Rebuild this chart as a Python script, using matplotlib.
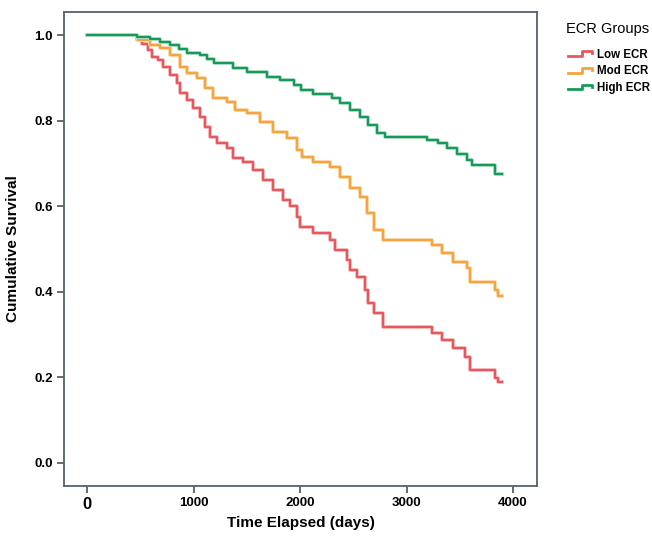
import matplotlib
matplotlib.use('Agg')
import numpy as np
import matplotlib.pyplot as plt
import matplotlib.patheffects as pe
from matplotlib.lines import Line2D
from matplotlib.legend_handler import HandlerBase

plt.rcParams['font.family'] = ['Liberation Sans', 'DejaVu Sans']

# Kaplan-Meier steps (days, cumulative survival)
red_t = [0, 466, 515, 575, 610, 665, 715, 780, 845, 875, 940, 995, 1060, 1110, 1155, 1220,
         1315, 1370, 1465, 1560, 1655, 1750, 1840, 1905, 1970, 2000, 2120, 2280, 2330, 2440,
         2470, 2535, 2610, 2640, 2690, 2780, 3240, 3335, 3440, 3550, 3595, 3830, 3860, 3895]
red_s = [1.0, 0.988, 0.979, 0.965, 0.949, 0.942, 0.925, 0.906, 0.888, 0.864, 0.848, 0.829,
         0.808, 0.785, 0.762, 0.748, 0.736, 0.713, 0.703, 0.685, 0.661, 0.638, 0.615, 0.600,
         0.575, 0.551, 0.537, 0.521, 0.498, 0.474, 0.451, 0.435, 0.404, 0.374, 0.350, 0.318,
         0.304, 0.287, 0.269, 0.248, 0.217, 0.199, 0.189, 0.189]

orange_t = [0, 480, 590, 685, 780, 875, 940, 1030, 1110, 1185, 1310, 1390, 1500, 1625, 1750,
            1875, 1970, 2020, 2120, 2280, 2375, 2470, 2565, 2630, 2690, 2780, 3240, 3335, 3440,
            3565, 3595, 3830, 3860, 3895]
orange_s = [1.0, 0.988, 0.977, 0.969, 0.953, 0.926, 0.911, 0.900, 0.876, 0.853, 0.844, 0.825,
            0.818, 0.797, 0.773, 0.759, 0.731, 0.715, 0.703, 0.692, 0.668, 0.643, 0.621, 0.584,
            0.544, 0.521, 0.509, 0.490, 0.470, 0.455, 0.423, 0.404, 0.390, 0.390]

green_t = [0, 466, 590, 685, 780, 860, 935, 1060, 1125, 1190, 1375, 1500, 1690, 1815, 1940,
           2005, 2120, 2300, 2375, 2470, 2565, 2640, 2720, 2800, 3190, 3295, 3380, 3475, 3565,
           3615, 3830, 3895]
green_s = [1.0, 0.996, 0.990, 0.985, 0.977, 0.967, 0.957, 0.953, 0.943, 0.934, 0.922, 0.914,
           0.903, 0.895, 0.883, 0.871, 0.862, 0.853, 0.841, 0.825, 0.808, 0.790, 0.771, 0.762,
           0.755, 0.748, 0.736, 0.722, 0.708, 0.696, 0.675, 0.675]

groups = ['Low ECR', 'Mod ECR', 'High ECR']
colors = ['#e8575c', '#f6a53e', '#16995a']
halos = ['#f7c4c5', '#fcdcb2', '#b5e2ca']

x_ticks = [0, 1000, 2000, 3000, 4000]
y_ticks = [0.0, 0.2, 0.4, 0.6, 0.8, 1.0]


class StepHandler(HandlerBase):
    def create_artists(self, legend, orig_handle, xdescent, ydescent, width, height, fontsize, trans):
        xs = np.array([0, 0.55, 0.55, 0.95, 0.95]) * width - xdescent
        ys = np.array([0.2, 0.2, 0.8, 0.8, 0.55]) * height - ydescent
        ln = Line2D(xs, ys, color=orig_handle.get_color(), lw=2, transform=trans)
        return [ln]


fig = plt.figure(figsize=(6.52, 5.41), dpi=100)
ax = fig.add_axes([64 / 652, 1 - 486 / 541, (537 - 64) / 652, (486 - 12) / 541])

handles = []
for t, s, c, h in zip([red_t, orange_t, green_t], [red_s, orange_s, green_s], colors, halos):
    ax.step(t, s, where='post', color=c, lw=1.6,
            path_effects=[pe.Stroke(linewidth=2.8, foreground=h), pe.Normal()])
    handles.append(Line2D([], [], color=c))

ax.set_xlim(-216, 4225)
ax.set_ylim(-0.054, 1.054)
ax.set_xticks(x_ticks)
ax.set_yticks(y_ticks)
ax.set_xticklabels([str(v) for v in x_ticks], fontsize=9.5, fontweight='bold')
ax.set_yticklabels(['%.1f' % v for v in y_ticks], fontsize=9.5, fontweight='bold')
ax.get_xticklabels()[0].set_fontsize(12)

frame = '#56616b'
for sp in ax.spines.values():
    sp.set_color(frame)
    sp.set_linewidth(1.3)
ax.tick_params(direction='out', length=5, width=1.3, color=frame, pad=3)

ax.set_xlabel('Time Elapsed (days)', fontsize=11, fontweight='bold', labelpad=3)
ax.set_ylabel('Cumulative Survival', fontsize=11, fontweight='bold', labelpad=10)

fig.text(566 / 652, 1 - 29 / 541, 'ECR Groups', fontsize=10.5, ha='left', va='center')
fig.legend(handles, groups, handler_map={Line2D: StepHandler()},
           loc='upper left', bbox_to_anchor=(562 / 652, 1 - 43 / 541),
           frameon=False, prop={'size': 8.3, 'weight': 'bold'}, handlelength=2.2,
           handletextpad=0.3, labelspacing=0.4, borderpad=0)

fig.savefig('out.png', dpi=100)
